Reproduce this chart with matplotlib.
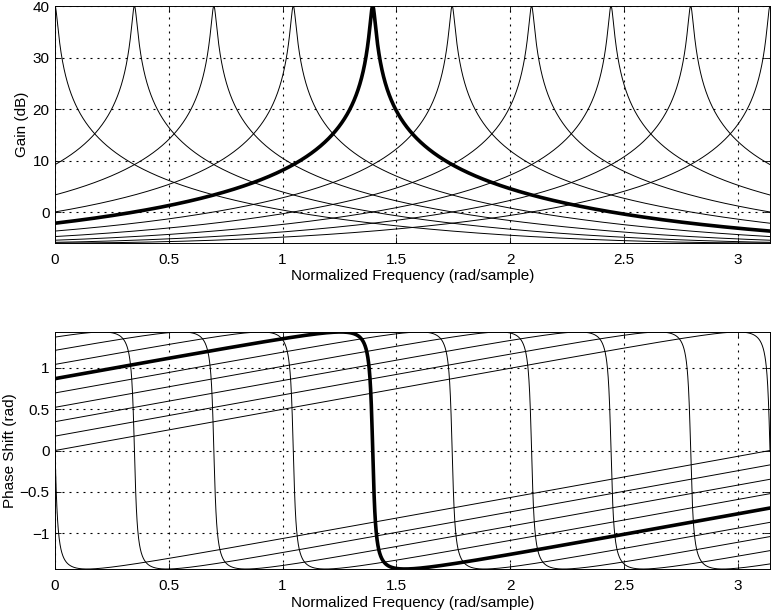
import numpy as np
import matplotlib.pyplot as plt

# resonator bank: centre frequencies (rad/sample)
centres = [0.0, 0.349, 0.698, 1.047, 1.396, 1.745, 2.094, 2.443, 2.793, 3.1416]
highlight = 4          # index of the thick curve (peak at ~1.4)
pole_radius = 0.99     # 40 dB peak, about -6 dB floor

xticks = [0, 0.5, 1, 1.5, 2, 2.5, 3]
gain_ticks = [0, 10, 20, 30, 40]
phase_ticks = [-1, -0.5, 0, 0.5, 1]

plt.rcParams['font.family'] = ['Liberation Sans', 'DejaVu Sans']
plt.rcParams['font.size'] = 11

w = np.linspace(0, np.pi, 4097)
gains, phases = [], []
for c in centres:
    H = 1.0 / (1 - pole_radius * np.exp(1j * c) * np.exp(-1j * w))
    gains.append(20 * np.log10(np.abs(H)))
    phases.append(np.angle(H))

fig = plt.figure(figsize=(7.71, 6.12), dpi=100)
W, Hh = 771, 612
ax1 = fig.add_axes([55 / W, 1 - 243 / Hh, 715 / W, 237 / Hh])
ax2 = fig.add_axes([55 / W, 1 - 569 / Hh, 715 / W, 237 / Hh])


def style(ax, yticks, ylabel, label_x):
    ax.set_xlim(0, np.pi)
    ax.set_xticks(xticks)
    ax.set_xticklabels(['0', '0.5', '1', '1.5', '2', '2.5', '3'])
    ax.set_yticks(yticks)
    ax.tick_params(direction='in', top=True, right=True, length=4, width=0.6,
                   labelsize=11)
    ax.tick_params(axis='x', pad=7)
    ax.tick_params(axis='y', pad=4)
    ax.grid(True, linestyle=(0, (1.8, 4.5)), color='black', linewidth=0.8)
    for s in ax.spines.values():
        s.set_linewidth(0.7)
    ax.set_xlabel('Normalized Frequency (rad/sample)', labelpad=2)
    ax.set_ylabel(ylabel, va='center', ha='center')
    # label centre in pixels from the left edge of the figure
    ax.yaxis.set_label_coords((label_x - 55) / 715, 0.5)


for i in range(len(centres)):
    if i == highlight:
        continue
    ax1.plot(w, gains[i], color='black', linewidth=0.7)
    ax2.plot(w, phases[i], color='black', linewidth=0.7)
ax1.plot(w, gains[highlight], color='black', linewidth=2.6)
ax2.plot(w, phases[highlight], color='black', linewidth=2.6)

gmin = min(g.min() for g in gains)
gmax = max(g.max() for g in gains)
pmin = min(p.min() for p in phases)
pmax = max(p.max() for p in phases)
ax1.set_ylim(gmin, gmax)
ax2.set_ylim(pmin, pmax)

style(ax1, gain_ticks, 'Gain (dB)', 22)
ax2.set_yticklabels(['\u22121', '\u22120.5', '0', '0.5', '1'])
style(ax2, phase_ticks, 'Phase Shift (rad)', 10)

fig.savefig('out.png', dpi=100)
